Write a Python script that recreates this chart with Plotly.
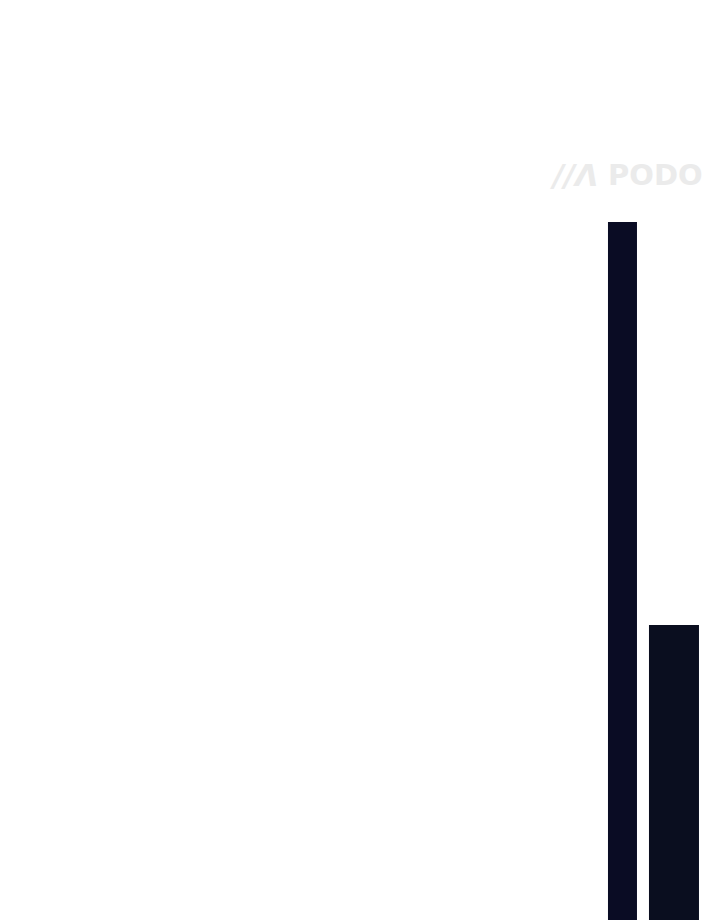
import plotly.graph_objects as go

# Data
categories = ["A", "B"]
values = [100.0, 42.9]
bar_colors = ["#0a0c24", "#0a0e1f"]

fig = go.Figure()
fig.add_trace(go.Bar(
    x=categories,
    y=values,
    width=[0.563, 0.971],
    marker=dict(color=bar_colors, line=dict(width=0)),
    hoverinfo="skip",
))

fig.update_layout(
    width=720, height=920,
    margin=dict(l=0, r=0, t=0, b=0),
    paper_bgcolor="#ffffff",
    plot_bgcolor="#ffffff",
    showlegend=False,
    xaxis=dict(type="category", range=[-11.932, 2.049], visible=False, fixedrange=True),
    yaxis=dict(range=[0, 130.3], visible=False, fixedrange=True),
    annotations=[
        dict(
            text="<b><i>//Λ</i></b>",
            xref="paper", yref="paper",
            x=540/720, y=1 - 167/920,
            xanchor="left", yanchor="middle",
            showarrow=False,
            font=dict(family="DejaVu Sans", size=30, color="#ebebeb"),
        ),
        dict(
            text="<b>PODO</b>",
            xref="paper", yref="paper",
            x=697/720, y=1 - 167/920,
            xanchor="right", yanchor="middle",
            showarrow=False,
            font=dict(family="DejaVu Sans", size=29, color="#ebebeb"),
        ),
    ],
)

fig.write_html("out.html")
